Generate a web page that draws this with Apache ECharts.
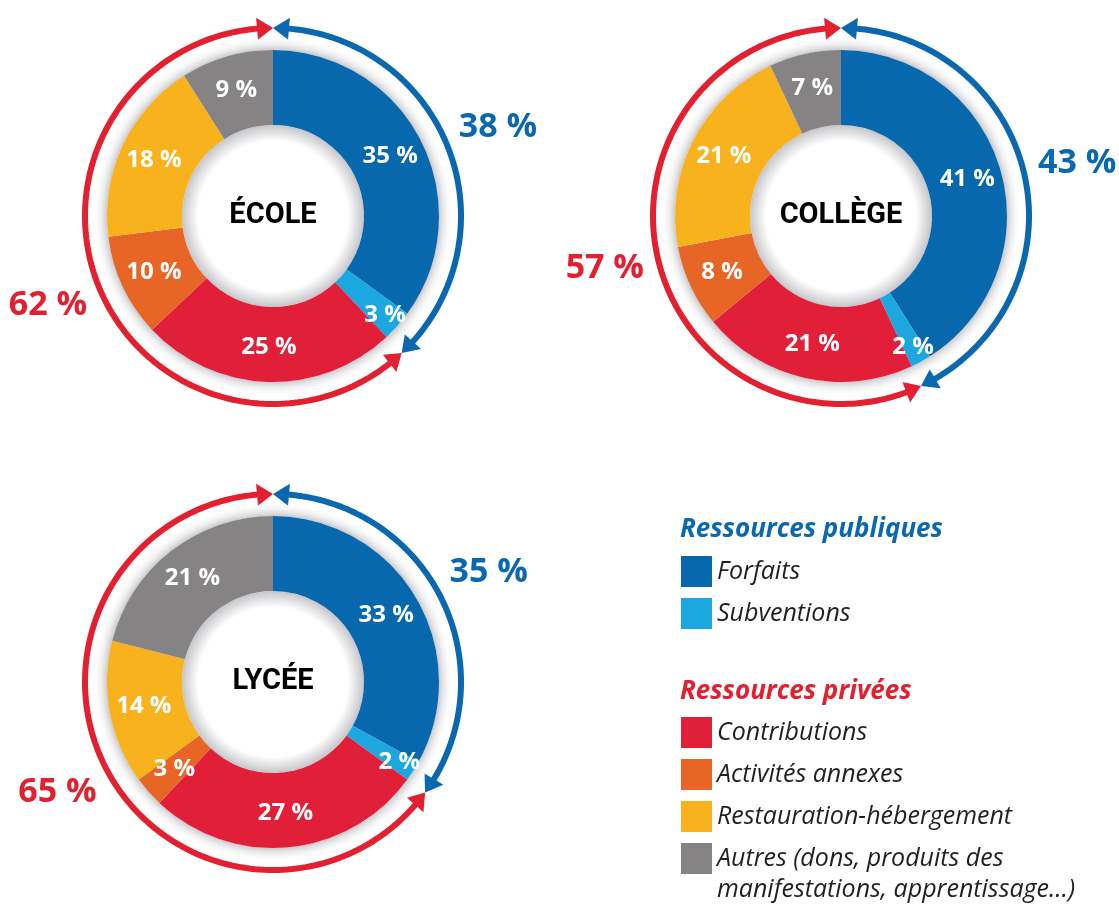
<!DOCTYPE html>
<html>
<head>
<meta charset="utf-8">
<script src="https://cdn.jsdelivr.net/npm/echarts@6/dist/echarts.min.js"></script>
<style>
html,body{margin:0;padding:0;background:#fff;}
#chart{width:1119px;height:904px;}
</style>
</head>
<body>
<div id="chart"></div>
<script>
// ---------- DATA ----------
const categories = [
  'Forfaits',
  'Subventions',
  'Contributions',
  'Activités annexes',
  'Restauration-hébergement',
  'Autres (dons, produits des\nmanifestations, apprentissage…)'
];
const levels = ['ÉCOLE', 'COLLÈGE', 'LYCÉE'];
const ecoleValues   = [35, 3, 25, 10, 18, 9];
const collegeValues = [41, 2, 21, 8, 21, 7];
const lyceeValues   = [33, 2, 27, 3, 14, 21];
const publicShare  = [38, 43, 35];
const privateShare = [62, 57, 65];
const groupTitles = ['Ressources publiques', 'Ressources privées'];

// ---------- STYLE / LAYOUT ----------
const sliceColors = ['#0868ae', '#1ca7e0', '#e11f38', '#e76626', '#f7b21d', '#858384'];
const BLUE = '#0a68b0';
const RED = '#e2202f';
const centers = [[273, 216], [841, 216], [273, 682]];
const R_IN = 91, R_OUT = 166, ARC_R = 188, LABEL_R = 242;
const valueSets = [ecoleValues, collegeValues, lyceeValues];
const FONT = 'Open Sans';

function arcRender(params, api) {
  const a0 = api.value(0), a1 = api.value(1), kind = api.value(2), txt = api.value(3);
  const color = kind === 0 ? BLUE : RED;
  const arrowLen = 16, hw = 11;
  const dv = arrowLen / (2 * Math.PI * ARC_R) * 100;
  const s = a0 + dv - 0.05, e = a1 - dv + 0.05;
  const pts = [];
  const steps = 160;
  for (let i = 0; i <= steps; i++) pts.push(api.coord([ARC_R, s + (e - s) * i / steps]));
  const tip0 = api.coord([ARC_R, a0]);
  const b0a = api.coord([ARC_R - hw, a0 + dv]);
  const b0b = api.coord([ARC_R + hw, a0 + dv]);
  const tip1 = api.coord([ARC_R, a1]);
  const b1a = api.coord([ARC_R - hw, a1 - dv]);
  const b1b = api.coord([ARC_R + hw, a1 - dv]);
  const lp = api.coord([LABEL_R, (a0 + a1) / 2]);
  return {
    type: 'group',
    children: [
      { type: 'polyline', shape: { points: pts }, style: { stroke: color, lineWidth: 6, fill: null } },
      { type: 'polygon', shape: { points: [tip0, b0a, b0b] }, style: { fill: color } },
      { type: 'polygon', shape: { points: [tip1, b1a, b1b] }, style: { fill: color } },
      { type: 'text', x: lp[0], y: lp[1], style: {
          text: txt + ' %', fill: color, fontSize: 34, fontWeight: 'bold', fontFamily: FONT,
          align: 'center', verticalAlign: 'middle' } }
    ]
  };
}

function pieData(vals) {
  let cum = 0;
  return vals.map((v, k) => {
    const mid = (cum + v / 2) / 100 * 2 * Math.PI;
    cum += v;
    const item = { name: categories[k], value: v, itemStyle: { color: sliceColors[k] } };
    if (k === 1) {
      // push the narrow "Subventions" label slightly outward
      const sh = 18;
      item.label = { offset: [sh * Math.sin(mid), -sh * Math.cos(mid)] };
    }
    return item;
  });
}

const series = [];
valueSets.forEach((vals, i) => {
  const c = centers[i];
  series.push({
    type: 'pie', center: c, radius: [R_OUT, R_OUT + 14], silent: true,
    label: { show: false }, labelLine: { show: false }, emphasis: { disabled: true },
    itemStyle: { borderWidth: 0 },
    data: [{ value: 1, name: '', itemStyle: { color: { type: 'radial', x: c[0], y: c[1], r: R_OUT + 14, global: true,
      colorStops: [{ offset: 0, color: '#cbcacf' }, { offset: R_OUT / (R_OUT + 14), color: '#cbcacf' }, { offset: 1, color: 'rgba(255,255,255,0)' }] } } }]
  });
  series.push({
    type: 'pie', center: c, radius: [R_IN - 16, R_IN], silent: true,
    labelLine: { show: false }, emphasis: { disabled: true },
    itemStyle: { borderWidth: 0 },
    label: { show: true, position: 'center', formatter: '{b}', color: '#000', fontSize: 29, fontWeight: 'bold', fontFamily: 'Roboto' },
    data: [{ value: 1, name: levels[i], itemStyle: { color: { type: 'radial', x: c[0], y: c[1], r: R_IN, global: true,
      colorStops: [{ offset: 0, color: '#ffffff' }, { offset: (R_IN - 16) / R_IN, color: '#ffffff' }, { offset: 1, color: '#c6c5ca' }] } } }]
  });
  series.push({
    type: 'pie', center: c, radius: [R_IN, R_OUT], startAngle: 90, clockwise: true,
    avoidLabelOverlap: false, silent: true,
    itemStyle: { borderWidth: 0 },
    emphasis: { disabled: true },
    label: { show: true, position: 'inside', formatter: '{c} %', color: '#fff', fontSize: 24, fontWeight: 'bold', fontFamily: FONT },
    labelLine: { show: false },
    data: pieData(vals)
  });
  series.push({
    type: 'custom', coordinateSystem: 'polar', polarIndex: i, silent: true,
    renderItem: arcRender,
    data: [
      [0, publicShare[i], 0, publicShare[i]],
      [publicShare[i], publicShare[i] + privateShare[i], 1, privateShare[i]]
    ]
  });
});

const legendText = { color: '#231f20', fontSize: 25, fontStyle: 'italic', fontFamily: FONT, lineHeight: 31 };
const legendBase = { orient: 'vertical', left: 681, padding: 0, itemWidth: 31, itemHeight: 31, itemGap: 11,
  selectedMode: false, textStyle: legendText };
const option = {
  backgroundColor: '#ffffff',
  animation: false,
  title: [
    { text: groupTitles[0], left: 680, top: 517, padding: 0,
      textStyle: { color: BLUE, fontSize: 26, fontWeight: 'bold', fontStyle: 'italic', fontFamily: FONT } },
    { text: groupTitles[1], left: 680, top: 679, padding: 0,
      textStyle: { color: RED, fontSize: 26, fontWeight: 'bold', fontStyle: 'italic', fontFamily: FONT } }
  ],
  legend: [
    Object.assign({}, legendBase, { top: 556,
      data: categories.slice(0, 2).map(n => ({ name: n, icon: 'rect' })) }),
    Object.assign({}, legendBase, { top: 717,
      data: categories.slice(2, 5).map(n => ({ name: n, icon: 'rect' })) }),
    Object.assign({}, legendBase, { top: 812,
      formatter: name => '\n' + name,
      data: [{ name: categories[5], icon: 'rect' }] })
  ],
  polar: centers.map(c => ({ center: c, radius: ARC_R })),
  angleAxis: centers.map((c, i) => ({ polarIndex: i, type: 'value', min: 0, max: 100, startAngle: 90, clockwise: true,
    show: false, axisLine: { show: false }, splitLine: { show: false }, axisTick: { show: false }, axisLabel: { show: false } })),
  radiusAxis: centers.map((c, i) => ({ polarIndex: i, type: 'value', min: 0, max: ARC_R,
    show: false, axisLine: { show: false }, splitLine: { show: false }, axisTick: { show: false }, axisLabel: { show: false } })),
  series: series
};

const chart = echarts.init(document.getElementById('chart'), null, { renderer: 'canvas' });
chart.setOption(option);
</script>
</body>
</html>
